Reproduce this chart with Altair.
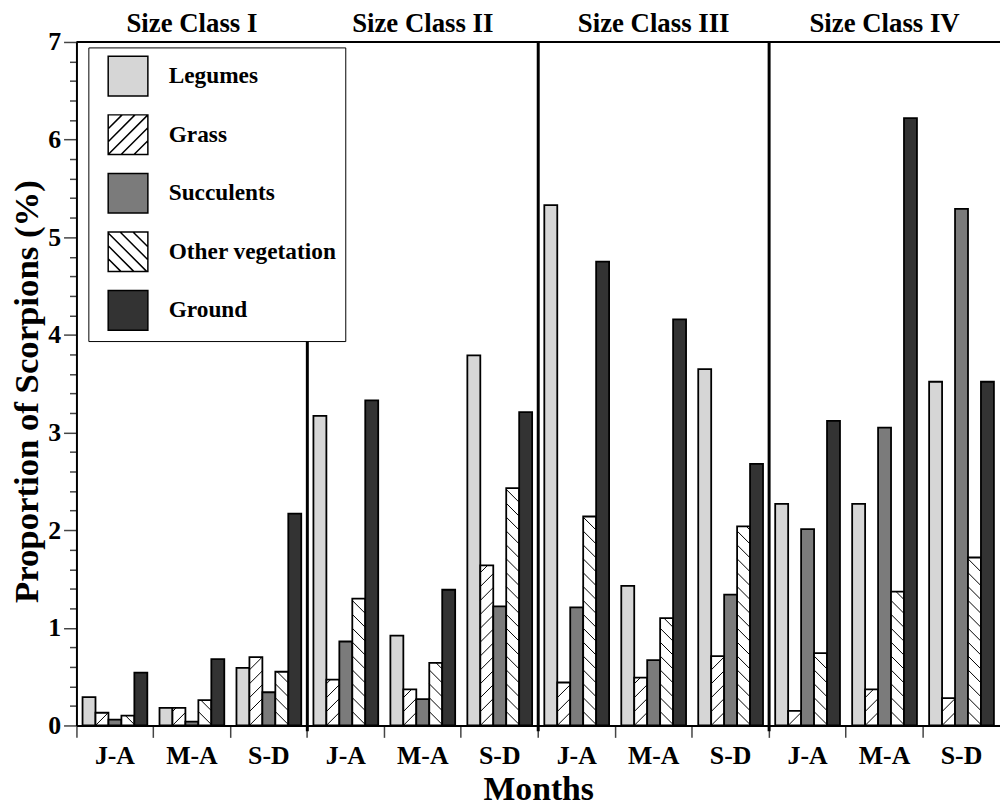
import math
import altair as alt
import pandas as pd

# ---------------- data ----------------
class_keys = ["I", "II", "III", "IV"]
size_classes = ["Size Class I", "Size Class II", "Size Class III", "Size Class IV"]
months = ["J-A", "M-A", "S-D"]
categories = ["Legumes", "Grass", "Succulents", "Other vegetation", "Ground"]

legumes = [0.29, 0.18, 0.59, 3.17, 0.92, 3.79, 5.33, 1.43, 3.65, 2.27, 2.27, 3.52]
grass = [0.13, 0.18, 0.70, 0.47, 0.37, 1.64, 0.44, 0.49, 0.71, 0.15, 0.37, 0.28]
succulents = [0.06, 0.04, 0.34, 0.86, 0.27, 1.22, 1.21, 0.67, 1.34, 2.01, 3.05, 5.29]
other_veg = [0.10, 0.26, 0.55, 1.30, 0.64, 2.43, 2.14, 1.10, 2.04, 0.74, 1.37, 1.72]
ground = [0.54, 0.68, 2.17, 3.33, 1.39, 3.21, 4.75, 4.16, 2.68, 3.12, 6.22, 3.52]

fills = ["#d6d6d6", "#ffffff", "#7b7b7b", "#ffffff", "#333333"]

# ---------------- layout constants ----------------
W = 931
H = 689
Y_MAX = 7
SUB_PAD = 0.47
groups = [f"{c}|{m}" for c in class_keys for m in months]
group_step = W / len(groups)
sub_step = group_step / (len(categories) + 2 * SUB_PAD)
ppu = H / Y_MAX
HATCH_SPACING = 14.0


def hatch(w, h, s, rising, x0, y0):
    """Diagonal hatch segments inside rectangle x0..x0+w, y0-h..y0 (screen coords)."""
    parts = []
    kmin = int(math.floor(-(w + h) / s)) - 1
    kmax = int(math.ceil((w + h) / s)) + 1
    for k in range(kmin, kmax + 1):
        c = k * s
        if rising:
            ua, ub = max(0.0, -c), min(w, h - c)
            if ub - ua <= 0.3:
                continue
            p1 = (x0 + ua, y0 - (ua + c))
            p2 = (x0 + ub, y0 - (ub + c))
        else:
            ua, ub = max(0.0, c - h), min(w, c)
            if ub - ua <= 0.3:
                continue
            p1 = (x0 + ua, y0 - (c - ua))
            p2 = (x0 + ub, y0 - (c - ub))
        parts.append(f"M{p1[0]:.2f},{p1[1]:.2f}L{p2[0]:.2f},{p2[1]:.2f}")
    return "".join(parts)


series = [legumes, grass, succulents, other_veg, ground]

bar_rows = []
hatch_rows = []
for gi, g in enumerate(groups):
    for cat, vals in zip(categories, series):
        v = vals[gi]
        bar_rows.append({"group": g, "category": cat, "value": v})
        if cat in ("Grass", "Other vegetation"):
            p = hatch(sub_step, v * ppu, HATCH_SPACING, cat == "Grass", -sub_step / 2, 0.0)
            if p:
                hatch_rows.append({"group": g, "category": cat, "value": 0.0, "path": p})
bars_df = pd.DataFrame(bar_rows)
hatch_df = pd.DataFrame(hatch_rows)

square = "M-1,-1L1,-1L1,1L-1,1Z"
legend_paths = [
    square,
    square + hatch(2, 2, 0.65, True, -1, 1),
    square,
    square + hatch(2, 2, 0.65, False, -1, 1),
    square,
]
legend_df = pd.DataFrame({"group": [groups[0]] * 5, "category": categories, "value": [-1.0] * 5})

sep_df = pd.DataFrame({
    "group": ["II|J-A", "III|J-A", "IV|J-A"],
    "value": [-0.06, -0.06, -0.06],
    "value2": [4.0, 7.0, 7.0],
})
title_df = pd.DataFrame({
    "group": [f"{c}|M-A" for c in class_keys],
    "label": size_classes,
    "value": [7.0] * 4,
})
top_df = pd.DataFrame({"value": [7.0]})

# ---------------- scales / axes ----------------
FONT = "Liberation Serif"
x_scale = alt.Scale(domain=groups, paddingInner=0, paddingOuter=0)
xo_scale = alt.Scale(domain=categories, paddingInner=0, paddingOuter=SUB_PAD)
y_scale = alt.Scale(domain=[0, Y_MAX], nice=False, zero=False)

x_axis = alt.Axis(
    title="Months",
    labelExpr="split(datum.label, '|')[1]",
    labelAngle=0,
    labelFont=FONT, labelFontSize=26, labelFontWeight="bold", labelColor="black",
    labelPadding=5,
    bandPosition=0,
    tickSize=12, tickColor="#444444", tickWidth=1.5,
    domainColor="black", domainWidth=2,
    titleFont=FONT, titleFontSize=34, titleFontWeight="bold", titleColor="black",
    titleBaseline="alphabetic", titleY=75,
    grid=False,
)
y_axis = alt.Axis(
    title="Proportion of Scorpions (%)",
    values=[i / 5 for i in range(0, 36)],
    labelExpr="datum.value % 1 === 0 ? format(datum.value, 'd') : ''",
    labelFont=FONT, labelFontSize=26, labelFontWeight="bold", labelColor="black",
    labelPadding=3,
    tickSize={"condition": {"test": "datum.value % 1 === 0", "value": 13}, "value": 7},
    tickColor="#444444", tickWidth=1.5,
    domainColor="black", domainWidth=2,
    titleFont=FONT, titleFontSize=35, titleFontWeight="bold", titleColor="black",
    titleAngle=270, titleAlign="center", titleBaseline="alphabetic",
    titleX=-39, titleY=352,
    grid=False,
)

X = alt.X("group:N", scale=x_scale, axis=x_axis)
XO = alt.XOffset("category:N", scale=xo_scale)
Y = alt.Y("value:Q", scale=y_scale, axis=y_axis)

legend = alt.Legend(
    title=None, orient="none", legendX=12, legendY=5.5,
    padding=8, strokeColor="black", fillColor="white",
    symbolSize=1600, symbolOffset=11, labelOffset=20, rowPadding=13,
    symbolStrokeColor="black", symbolStrokeWidth=1.5,
    labelFont=FONT, labelFontSize=23.5, labelFontWeight="bold", labelColor="black",
    labelLimit=400,
)

bars = alt.Chart(bars_df).mark_bar(stroke="black", strokeWidth=1.8, opacity=1).encode(
    x=X, xOffset=XO, y=Y,
    color=alt.Color("category:N", scale=alt.Scale(domain=categories, range=fills), legend=None),
)

hatches = alt.Chart(hatch_df).mark_point(filled=False, color="black", strokeWidth=1, opacity=1, size=4).encode(
    x=X, xOffset=XO, y=Y,
    shape=alt.Shape("path:N", scale=None),
)

legend_layer = alt.Chart(legend_df).mark_point(
    filled=True, stroke="black", strokeWidth=1.5, opacity=1, size=1600, clip=True
).encode(
    x=X, xOffset=XO, y=Y,
    color=alt.Color("category:N", scale=alt.Scale(domain=categories, range=fills), legend=legend),
    shape=alt.Shape("category:N", scale=alt.Scale(domain=categories, range=legend_paths), legend=legend),
)

seps = alt.Chart(sep_df).mark_rule(color="black", strokeWidth=3).encode(
    x=alt.X("group:N", scale=x_scale, axis=x_axis, bandPosition=0),
    y=Y, y2="value2:Q",
)

titles = alt.Chart(title_df).mark_text(
    font=FONT, fontSize=27, fontWeight="bold", color="black", baseline="alphabetic", dy=-10
).encode(x=X, y=Y, text="label:N")

top_line = alt.Chart(top_df).mark_rule(color="black", strokeWidth=2).encode(y=Y)

chart = alt.layer(bars, hatches, seps, top_line, legend_layer, titles).resolve_scale(
    shape="independent", color="independent"
).properties(
    width=W, height=H,
    autosize=alt.AutoSizeParams(type="none"),
    padding={"left": 69, "top": 31, "right": 0, "bottom": 84},
).configure_view(strokeWidth=0).configure_legend(strokeWidth=1.5).configure(font=FONT)

chart.save("out.html", embed_options={"renderer": "svg", "actions": False})
